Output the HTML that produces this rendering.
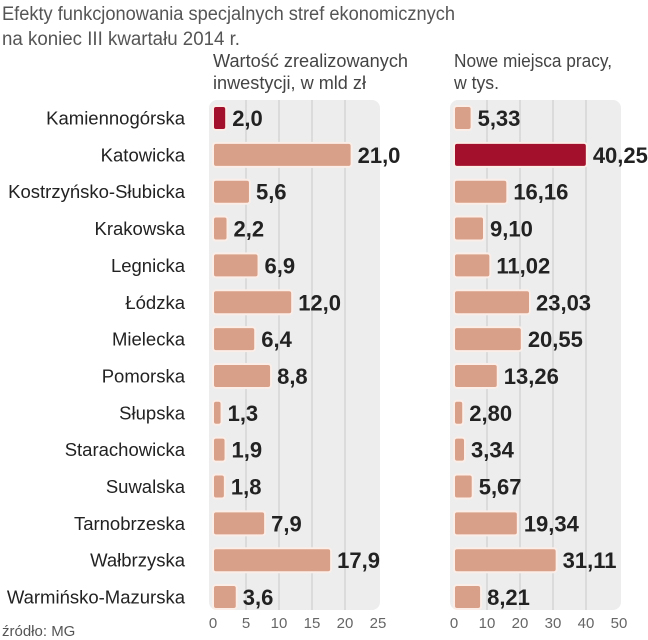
<!DOCTYPE html>
<html><head><meta charset="utf-8"><style>
body{margin:0;background:#fff}
svg{display:block;font-family:"Liberation Sans",sans-serif}
</style></head><body>
<svg id="chart" width="648" height="640" viewBox="0 0 648 640">
<text x="2" y="20" font-size="19" fill="#555" textLength="453" lengthAdjust="spacingAndGlyphs">Efekty funkcjonowania specjalnych stref ekonomicznych</text>
<text x="2" y="45" font-size="19" fill="#555" textLength="238" lengthAdjust="spacingAndGlyphs">na koniec III kwartału 2014 r.</text>
<text x="213" y="67" font-size="18" fill="#444" textLength="195" lengthAdjust="spacingAndGlyphs">Wartość zrealizowanych</text>
<text x="213" y="89" font-size="18" fill="#444" textLength="153" lengthAdjust="spacingAndGlyphs">inwestycji, w mld zł</text>
<text x="454" y="67" font-size="18" fill="#444" textLength="158" lengthAdjust="spacingAndGlyphs">Nowe miejsca pracy,</text>
<text x="454" y="89" font-size="18" fill="#444" textLength="45" lengthAdjust="spacingAndGlyphs">w tys.</text>
<text x="2" y="636" font-size="15" fill="#555">źródło: MG</text>
<g id="g"></g>
</svg>
<script>
const categories=["Kamiennogórska","Katowicka","Kostrzyńsko-Słubicka","Krakowska","Legnicka","Łódzka","Mielecka","Pomorska","Słupska","Starachowicka","Suwalska","Tarnobrzeska","Wałbrzyska","Warmińsko-Mazurska"];
const investValues=[2.0,21.0,5.6,2.2,6.9,12.0,6.4,8.8,1.3,1.9,1.8,7.9,17.9,3.6];
const jobsValues=[5.33,40.25,16.16,9.10,11.02,23.03,20.55,13.26,2.80,3.34,5.67,19.34,31.11,8.21];
const investTicks=[0,5,10,15,20,25];
const jobsTicks=[0,10,20,30,40,50];
const investHighlight=0, jobsHighlight=1;

const NS="http://www.w3.org/2000/svg";
const g=document.getElementById('g');
function mk(t,a,p){const e=document.createElementNS(NS,t);for(const k in a)e.setAttribute(k,a[k]);(p||g).appendChild(e);return e;}
const rowY=i=>118+i*36.85;
function panel(x0,x1,max,ticks,vals,hi,dec,name){
  const sx=v=>x0+(v/max)*(x1-x0);
  const bg=mk('rect',{x:x0-4,y:100,width:x1-x0+6,height:510,rx:8,fill:'#ededed'});
  
  
  ticks.forEach((t,i)=>{
    if(i>0&&i<ticks.length-1){const l=mk('line',{x1:sx(t),x2:sx(t),y1:100,y2:610,stroke:'#c9c9c9','stroke-width':1});
      
      }
    const tx=mk('text',{x:sx(t),y:628,'font-size':15,fill:'#666','text-anchor':'middle'});
    
    
    tx.textContent=t;
  });
  vals.forEach((v,i)=>{
    const y=rowY(i);
    const r=mk('rect',{x:x0,y:y-12,width:Math.max(sx(v)-x0,3),height:24,rx:3,fill:i===hi?'#a3102b':'#d9a089',stroke:'#fbeee8','stroke-width':2});
    
    
    const t=mk('text',{x:sx(v)+6,y:y+8,'font-size':22,'font-weight':'bold',fill:'#222'});
    
    
    t.textContent=v.toFixed(dec).replace('.',',');
  });
}
panel(213,378,25,investTicks,investValues,investHighlight,1,'investment');
panel(454,619,50,jobsTicks,jobsValues,jobsHighlight,2,'jobs');
categories.forEach((c,i)=>{
  const t=mk('text',{x:185,y:rowY(i)+6.5,'font-size':18.5,fill:'#222','text-anchor':'end'});
  
  
  t.textContent=c;
});
</script>
</body></html>
